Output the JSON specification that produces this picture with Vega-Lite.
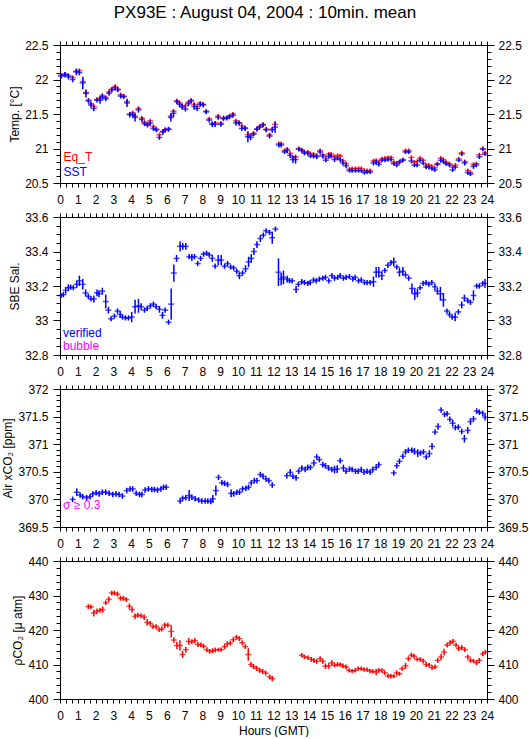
{
"$schema": "https://vega.github.io/schema/vega-lite/v6.json",
"padding": {"left": 1, "top": 3, "right": 5, "bottom": 0},
"title": {"text": "PX93E : August 04, 2004 : 10min. mean", "font": "Liberation Sans", "fontSize": 17, "fontWeight": "normal", "color": "#000000", "anchor": "middle", "offset": 17},
"config": {
  "view": {"stroke": "#000000", "strokeWidth": 1},
  "axis": {"domainColor": "#000000", "tickColor": "#000000", "labelColor": "#000000", "titleColor": "#000000", "labelFont": "Liberation Sans", "titleFont": "Liberation Sans", "labelFontSize": 12, "titleFontSize": 12, "titleFontWeight": "normal", "grid": false, "tickWidth": 1, "domainWidth": 1}
},
"resolve": {"scale": {"color": "independent"}},
"spacing": 34,
"bounds": "flush",
"datasets": {
"temp": [
{"h":0.06,"sst":22.05,"se":0.04,"eq":22.06,"ee":0.03},
{"h":0.28,"sst":22.07,"se":0.04,"eq":22.08,"ee":0.03},
{"h":0.47,"sst":22.04,"se":0.04,"eq":22.06,"ee":0.03},
{"h":0.71,"sst":22.00,"se":0.04,"eq":22.03,"ee":0.03},
{"h":0.92,"sst":22.11,"se":0.05,"eq":22.12,"ee":0.03},
{"h":1.09,"sst":22.10,"se":0.04,"eq":22.13,"ee":0.03},
{"h":1.28,"sst":21.95,"se":0.09,"eq":21.97,"ee":0.04},
{"h":1.46,"sst":21.80,"se":0.06,"eq":21.81,"ee":0.03},
{"h":1.60,"sst":21.69,"se":0.035,"eq":21.70,"ee":0.03},
{"h":1.74,"sst":21.63,"se":0.04,"eq":21.65,"ee":0.03},
{"h":1.90,"sst":21.58,"se":0.04,"eq":21.61,"ee":0.03},
{"h":2.08,"sst":21.70,"se":0.035,"eq":21.71,"ee":0.03},
{"h":2.25,"sst":21.70,"se":0.05,"eq":21.73,"ee":0.03},
{"h":2.38,"sst":21.75,"se":0.04,"eq":21.77,"ee":0.03},
{"h":2.57,"sst":21.72,"se":0.035,"eq":21.74,"ee":0.03},
{"h":2.76,"sst":21.80,"se":0.035,"eq":21.82,"ee":0.03},
{"h":2.91,"sst":21.85,"se":0.035,"eq":21.86,"ee":0.03},
{"h":3.10,"sst":21.88,"se":0.035,"eq":21.90,"ee":0.03},
{"h":3.25,"sst":21.85,"se":0.035,"eq":21.86,"ee":0.03},
{"h":3.41,"sst":21.76,"se":0.035,"eq":21.78,"ee":0.03},
{"h":3.58,"sst":21.75,"se":0.035,"eq":21.76,"ee":0.03},
{"h":3.77,"sst":21.66,"se":0.06,"eq":21.68,"ee":0.03},
{"h":3.92,"sst":21.49,"se":0.04,"eq":21.50,"ee":0.03},
{"h":4.09,"sst":21.49,"se":0.04,"eq":21.52,"ee":0.03},
{"h":4.22,"sst":21.45,"se":0.06,"eq":21.47,"ee":0.03},
{"h":4.41,"sst":21.56,"se":0.04,"eq":21.58,"ee":0.03},
{"h":4.60,"sst":21.42,"se":0.035,"eq":21.44,"ee":0.03},
{"h":4.75,"sst":21.36,"se":0.035,"eq":21.38,"ee":0.03},
{"h":4.92,"sst":21.34,"se":0.035,"eq":21.35,"ee":0.03},
{"h":5.07,"sst":21.37,"se":0.035,"eq":21.40,"ee":0.03},
{"h":5.25,"sst":21.29,"se":0.035,"eq":21.32,"ee":0.03},
{"h":5.42,"sst":21.27,"se":0.035,"eq":21.28,"ee":0.03},
{"h":5.59,"sst":21.16,"se":0.035,"eq":21.20,"ee":0.03},
{"h":5.78,"sst":21.24,"se":0.04,"eq":21.25,"ee":0.03},
{"h":5.91,"sst":21.27,"se":0.035,"eq":21.27,"ee":0.03},
{"h":6.10,"sst":21.28,"se":0.035,"eq":21.28,"ee":0.03},
{"h":6.23,"sst":21.45,"se":0.06,"eq":21.47,"ee":0.03},
{"h":6.38,"sst":21.51,"se":0.05,"eq":21.54,"ee":0.03},
{"h":6.57,"sst":21.68,"se":0.035,"eq":21.69,"ee":0.03},
{"h":6.72,"sst":21.64,"se":0.04,"eq":21.66,"ee":0.03},
{"h":6.87,"sst":21.60,"se":0.04,"eq":21.62,"ee":0.03},
{"h":7.05,"sst":21.57,"se":0.035,"eq":21.62,"ee":0.03},
{"h":7.22,"sst":21.65,"se":0.035,"eq":21.67,"ee":0.03},
{"h":7.37,"sst":21.69,"se":0.035,"eq":21.70,"ee":0.03},
{"h":7.54,"sst":21.61,"se":0.05,"eq":21.64,"ee":0.03},
{"h":7.71,"sst":21.58,"se":0.035,"eq":21.61,"ee":0.03},
{"h":7.88,"sst":21.64,"se":0.035,"eq":21.66,"ee":0.03},
{"h":8.05,"sst":21.63,"se":0.035,"eq":21.64,"ee":0.03},
{"h":8.22,"sst":21.53,"se":0.035,"eq":21.54,"ee":0.03},
{"h":8.39,"sst":21.41,"se":0.035,"eq":21.43,"ee":0.03},
{"h":8.56,"sst":21.35,"se":0.04,"eq":21.36,"ee":0.03},
{"h":8.72,"sst":21.35,"se":0.04,"eq":21.37,"ee":0.03},
{"h":8.89,"sst":21.45,"se":0.035,"eq":21.47,"ee":0.03},
{"h":9.04,"sst":21.35,"se":0.035,"eq":21.37,"ee":0.03},
{"h":9.19,"sst":21.44,"se":0.035,"eq":21.43,"ee":0.03},
{"h":9.38,"sst":21.44,"se":0.035,"eq":21.45,"ee":0.03},
{"h":9.53,"sst":21.46,"se":0.035,"eq":21.47,"ee":0.03},
{"h":9.72,"sst":21.48,"se":0.035,"eq":21.50,"ee":0.03},
{"h":9.89,"sst":21.37,"se":0.04,"eq":21.40,"ee":0.03},
{"h":10.07,"sst":21.37,"se":0.035,"eq":21.37,"ee":0.03},
{"h":10.22,"sst":21.29,"se":0.035,"eq":21.33,"ee":0.03},
{"h":10.41,"sst":21.29,"se":0.035,"eq":21.30,"ee":0.03},
{"h":10.56,"sst":21.17,"se":0.08,"eq":21.20,"ee":0.04},
{"h":10.71,"sst":21.16,"se":0.04,"eq":21.19,"ee":0.03},
{"h":10.88,"sst":21.21,"se":0.035,"eq":21.22,"ee":0.03},
{"h":11.07,"sst":21.28,"se":0.035,"eq":21.28,"ee":0.03},
{"h":11.22,"sst":21.31,"se":0.035,"eq":21.32,"ee":0.03},
{"h":11.41,"sst":21.34,"se":0.035,"eq":21.35,"ee":0.03},
{"h":11.59,"sst":21.27,"se":0.035,"eq":21.28,"ee":0.03},
{"h":11.78,"sst":21.18,"se":0.035,"eq":21.20,"ee":0.03},
{"h":11.93,"sst":21.27,"se":0.04,"eq":21.28,"ee":0.03},
{"h":12.09,"sst":21.31,"se":0.08,"eq":21.35,"ee":0.04},
{"h":12.30,"sst":21.05,"se":0.035,"eq":21.07,"ee":0.03},
{"h":12.43,"sst":21.05,"se":0.035,"eq":21.07,"ee":0.03},
{"h":12.62,"sst":20.95,"se":0.03,"eq":20.97,"ee":0.03},
{"h":12.77,"sst":20.97,"se":0.035,"eq":20.99,"ee":0.03},
{"h":12.94,"sst":20.90,"se":0.035,"eq":20.93,"ee":0.03},
{"h":13.09,"sst":20.84,"se":0.05,"eq":20.87,"ee":0.03},
{"h":13.24,"sst":20.84,"se":0.06,"eq":20.88,"ee":0.03},
{"h":13.42,"sst":20.99,"se":0.03,"eq":21.00,"ee":0.03},
{"h":13.59,"sst":20.97,"se":0.03,"eq":20.98,"ee":0.03},
{"h":13.74,"sst":20.93,"se":0.03,"eq":20.95,"ee":0.03},
{"h":13.93,"sst":20.93,"se":0.03,"eq":20.95,"ee":0.03},
{"h":14.08,"sst":20.89,"se":0.03,"eq":20.92,"ee":0.03},
{"h":14.25,"sst":20.89,"se":0.035,"eq":20.92,"ee":0.03},
{"h":14.43,"sst":20.88,"se":0.035,"eq":20.90,"ee":0.03},
{"h":14.62,"sst":20.95,"se":0.035,"eq":20.97,"ee":0.03},
{"h":14.77,"sst":20.89,"se":0.03,"eq":20.91,"ee":0.03},
{"h":14.94,"sst":20.83,"se":0.03,"eq":20.86,"ee":0.03},
{"h":15.11,"sst":20.89,"se":0.04,"eq":20.92,"ee":0.03},
{"h":15.24,"sst":20.89,"se":0.035,"eq":20.92,"ee":0.03},
{"h":15.43,"sst":20.84,"se":0.035,"eq":20.88,"ee":0.03},
{"h":15.60,"sst":20.86,"se":0.03,"eq":20.90,"ee":0.03},
{"h":15.75,"sst":20.84,"se":0.035,"eq":20.89,"ee":0.03},
{"h":15.90,"sst":20.79,"se":0.035,"eq":20.82,"ee":0.03},
{"h":16.08,"sst":20.75,"se":0.035,"eq":20.78,"ee":0.03},
{"h":16.27,"sst":20.68,"se":0.03,"eq":20.70,"ee":0.03},
{"h":16.42,"sst":20.68,"se":0.03,"eq":20.71,"ee":0.03},
{"h":16.61,"sst":20.68,"se":0.03,"eq":20.71,"ee":0.03},
{"h":16.78,"sst":20.68,"se":0.03,"eq":20.71,"ee":0.03},
{"h":16.94,"sst":20.68,"se":0.03,"eq":20.71,"ee":0.03},
{"h":17.11,"sst":20.65,"se":0.03,"eq":20.68,"ee":0.03},
{"h":17.26,"sst":20.66,"se":0.03,"eq":20.68,"ee":0.03},
{"h":17.43,"sst":20.66,"se":0.03,"eq":20.68,"ee":0.03},
{"h":17.62,"sst":20.79,"se":0.035,"eq":20.82,"ee":0.03},
{"h":17.77,"sst":20.80,"se":0.035,"eq":20.83,"ee":0.03},
{"h":17.92,"sst":20.77,"se":0.03,"eq":20.80,"ee":0.03},
{"h":18.10,"sst":20.83,"se":0.03,"eq":20.85,"ee":0.03},
{"h":18.27,"sst":20.83,"se":0.03,"eq":20.86,"ee":0.03},
{"h":18.44,"sst":20.84,"se":0.03,"eq":20.87,"ee":0.03},
{"h":18.61,"sst":20.84,"se":0.03,"eq":20.87,"ee":0.03},
{"h":18.76,"sst":20.78,"se":0.03,"eq":20.80,"ee":0.03},
{"h":18.93,"sst":20.76,"se":0.03,"eq":20.79,"ee":0.03},
{"h":19.08,"sst":20.80,"se":0.03,"eq":20.81,"ee":0.03},
{"h":19.27,"sst":20.83,"se":0.03,"eq":20.84,"ee":0.03},
{"h":19.42,"sst":20.95,"se":0.03,"eq":20.97,"ee":0.03},
{"h":19.60,"sst":20.95,"se":0.03,"eq":20.97,"ee":0.03},
{"h":19.75,"sst":20.82,"se":0.035,"eq":20.87,"ee":0.03},
{"h":19.92,"sst":20.76,"se":0.03,"eq":20.80,"ee":0.03},
{"h":20.07,"sst":20.76,"se":0.03,"eq":20.81,"ee":0.03},
{"h":20.24,"sst":20.83,"se":0.03,"eq":20.86,"ee":0.03},
{"h":20.41,"sst":20.79,"se":0.03,"eq":20.83,"ee":0.03},
{"h":20.58,"sst":20.73,"se":0.03,"eq":20.76,"ee":0.03},
{"h":20.73,"sst":20.73,"se":0.03,"eq":20.76,"ee":0.03},
{"h":20.90,"sst":20.71,"se":0.03,"eq":20.74,"ee":0.03},
{"h":21.06,"sst":20.69,"se":0.03,"eq":20.72,"ee":0.03},
{"h":21.21,"sst":20.77,"se":0.03,"eq":20.78,"ee":0.03},
{"h":21.40,"sst":20.83,"se":0.035,"eq":20.86,"ee":0.03},
{"h":21.55,"sst":20.81,"se":0.03,"eq":20.84,"ee":0.03},
{"h":21.70,"sst":20.78,"se":0.03,"eq":20.80,"ee":0.03},
{"h":21.89,"sst":20.76,"se":0.03,"eq":20.78,"ee":0.03},
{"h":22.07,"sst":20.69,"se":0.03,"eq":20.73,"ee":0.03},
{"h":22.22,"sst":20.73,"se":0.03,"eq":20.76,"ee":0.03},
{"h":22.41,"sst":20.83,"se":0.03,"eq":20.85,"ee":0.03},
{"h":22.58,"sst":20.92,"se":0.03,"eq":20.94,"ee":0.03},
{"h":22.75,"sst":20.79,"se":0.035,"eq":20.81,"ee":0.03},
{"h":22.92,"sst":20.65,"se":0.03,"eq":20.68,"ee":0.03},
{"h":23.07,"sst":20.63,"se":0.03,"eq":20.65,"ee":0.03},
{"h":23.24,"sst":20.74,"se":0.035,"eq":20.77,"ee":0.03},
{"h":23.40,"sst":20.76,"se":0.03,"eq":20.78,"ee":0.03},
{"h":23.57,"sst":20.88,"se":0.035,"eq":20.91,"ee":0.03},
{"h":23.76,"sst":20.99,"se":0.03,"eq":21.00,"ee":0.03},
{"h":23.89,"sst":20.92,"se":0.03,"eq":20.94,"ee":0.03}
],
"sal": [
{"h":0.06,"s":33.145,"e":0.015},{"h":0.19,"s":33.15,"e":0.015},{"h":0.32,"s":33.175,"e":0.02},{"h":0.47,"s":33.19,"e":0.02},
{"h":0.60,"s":33.193,"e":0.015},{"h":0.75,"s":33.19,"e":0.015},{"h":0.94,"s":33.21,"e":0.02},{"h":1.09,"s":33.23,"e":0.03},
{"h":1.28,"s":33.21,"e":0.03},{"h":1.44,"s":33.16,"e":0.02},{"h":1.59,"s":33.14,"e":0.015},{"h":1.74,"s":33.125,"e":0.015},
{"h":1.90,"s":33.125,"e":0.02},{"h":2.08,"s":33.16,"e":0.02},{"h":2.19,"s":33.155,"e":0.02},{"h":2.38,"s":33.17,"e":0.02},
{"h":2.57,"s":33.11,"e":0.04},{"h":2.72,"s":33.06,"e":0.02},{"h":2.87,"s":33.01,"e":0.015},{"h":3.06,"s":33.025,"e":0.015},
{"h":3.23,"s":33.055,"e":0.015},{"h":3.38,"s":33.035,"e":0.02},{"h":3.51,"s":33.02,"e":0.015},{"h":3.68,"s":33.015,"e":0.015},
{"h":3.85,"s":33.015,"e":0.015},{"h":4.03,"s":33.02,"e":0.03},{"h":4.22,"s":33.08,"e":0.04},{"h":4.41,"s":33.085,"e":0.04},
{"h":4.56,"s":33.08,"e":0.02},{"h":4.75,"s":33.06,"e":0.015},{"h":4.90,"s":33.07,"e":0.015},{"h":5.08,"s":33.085,"e":0.015},
{"h":5.25,"s":33.095,"e":0.015},{"h":5.40,"s":33.08,"e":0.015},{"h":5.59,"s":33.065,"e":0.02},{"h":5.76,"s":33.03,"e":0.02},
{"h":5.91,"s":33.06,"e":0.015},{"h":6.10,"s":32.99,"e":0.015},{"h":6.25,"s":33.095,"e":0.09},{"h":6.40,"s":33.275,"e":0.05},
{"h":6.55,"s":33.36,"e":0.02},{"h":6.75,"s":33.43,"e":0.03},{"h":6.90,"s":33.43,"e":0.02},{"h":7.07,"s":33.43,"e":0.02},
{"h":7.26,"s":33.37,"e":0.015},{"h":7.41,"s":33.365,"e":0.02},{"h":7.56,"s":33.37,"e":0.015},{"h":7.74,"s":33.33,"e":0.015},
{"h":7.90,"s":33.36,"e":0.015},{"h":8.07,"s":33.385,"e":0.015},{"h":8.24,"s":33.39,"e":0.015},{"h":8.39,"s":33.38,"e":0.015},
{"h":8.56,"s":33.36,"e":0.02},{"h":8.72,"s":33.315,"e":0.015},{"h":8.89,"s":33.35,"e":0.03},{"h":9.06,"s":33.35,"e":0.03},
{"h":9.25,"s":33.315,"e":0.015},{"h":9.42,"s":33.33,"e":0.015},{"h":9.59,"s":33.31,"e":0.015},{"h":9.76,"s":33.305,"e":0.015},
{"h":9.94,"s":33.285,"e":0.015},{"h":10.08,"s":33.26,"e":0.02},{"h":10.26,"s":33.275,"e":0.015},{"h":10.43,"s":33.30,"e":0.02},
{"h":10.60,"s":33.34,"e":0.03},{"h":10.75,"s":33.36,"e":0.025},{"h":10.90,"s":33.40,"e":0.02},{"h":11.07,"s":33.44,"e":0.02},
{"h":11.26,"s":33.475,"e":0.02},{"h":11.43,"s":33.495,"e":0.015},{"h":11.58,"s":33.52,"e":0.015},{"h":11.78,"s":33.51,"e":0.015},
{"h":11.93,"s":33.48,"e":0.035},{"h":12.11,"s":33.53,"e":0.015},{"h":12.28,"s":33.28,"e":0.08},{"h":12.43,"s":33.24,"e":0.035},
{"h":12.56,"s":33.25,"e":0.04},{"h":12.77,"s":33.24,"e":0.02},{"h":12.90,"s":33.23,"e":0.015},{"h":13.05,"s":33.23,"e":0.015},
{"h":13.27,"s":33.18,"e":0.02},{"h":13.40,"s":33.21,"e":0.015},{"h":13.59,"s":33.225,"e":0.015},{"h":13.74,"s":33.22,"e":0.015},
{"h":13.93,"s":33.215,"e":0.015},{"h":14.06,"s":33.22,"e":0.015},{"h":14.25,"s":33.235,"e":0.015},{"h":14.40,"s":33.23,"e":0.015},
{"h":14.58,"s":33.24,"e":0.015},{"h":14.77,"s":33.245,"e":0.015},{"h":14.92,"s":33.25,"e":0.015},{"h":15.11,"s":33.23,"e":0.015},
{"h":15.28,"s":33.26,"e":0.015},{"h":15.43,"s":33.245,"e":0.015},{"h":15.61,"s":33.25,"e":0.015},{"h":15.75,"s":33.26,"e":0.015},
{"h":15.93,"s":33.245,"e":0.015},{"h":16.08,"s":33.25,"e":0.015},{"h":16.27,"s":33.255,"e":0.015},{"h":16.46,"s":33.24,"e":0.015},
{"h":16.59,"s":33.25,"e":0.015},{"h":16.78,"s":33.23,"e":0.015},{"h":16.93,"s":33.235,"e":0.015},{"h":17.11,"s":33.22,"e":0.015},
{"h":17.26,"s":33.22,"e":0.015},{"h":17.43,"s":33.22,"e":0.015},{"h":17.62,"s":33.225,"e":0.03},{"h":17.77,"s":33.28,"e":0.03},
{"h":17.92,"s":33.28,"e":0.03},{"h":18.09,"s":33.26,"e":0.025},{"h":18.26,"s":33.29,"e":0.015},{"h":18.43,"s":33.32,"e":0.015},
{"h":18.60,"s":33.335,"e":0.015},{"h":18.76,"s":33.34,"e":0.025},{"h":18.93,"s":33.31,"e":0.015},{"h":19.08,"s":33.28,"e":0.025},
{"h":19.27,"s":33.285,"e":0.025},{"h":19.42,"s":33.265,"e":0.015},{"h":19.60,"s":33.245,"e":0.015},{"h":19.78,"s":33.185,"e":0.03},
{"h":19.94,"s":33.155,"e":0.035},{"h":20.09,"s":33.16,"e":0.025},{"h":20.24,"s":33.19,"e":0.015},{"h":20.41,"s":33.215,"e":0.015},
{"h":20.58,"s":33.22,"e":0.015},{"h":20.73,"s":33.21,"e":0.015},{"h":20.90,"s":33.22,"e":0.015},{"h":21.07,"s":33.195,"e":0.02},
{"h":21.21,"s":33.17,"e":0.02},{"h":21.38,"s":33.155,"e":0.04},{"h":21.55,"s":33.12,"e":0.04},{"h":21.75,"s":33.055,"e":0.015},
{"h":21.89,"s":33.035,"e":0.015},{"h":22.04,"s":33.02,"e":0.015},{"h":22.21,"s":33.02,"e":0.025},{"h":22.39,"s":33.05,"e":0.015},
{"h":22.58,"s":33.09,"e":0.02},{"h":22.73,"s":33.13,"e":0.02},{"h":22.92,"s":33.115,"e":0.015},{"h":23.07,"s":33.105,"e":0.015},
{"h":23.24,"s":33.145,"e":0.03},{"h":23.42,"s":33.20,"e":0.015},{"h":23.57,"s":33.20,"e":0.015},{"h":23.76,"s":33.215,"e":0.015},
{"h":23.89,"s":33.215,"e":0.025}
],
"air": [
{"h":0.71,"c":370.0,"e":0.05},{"h":0.94,"c":370.13,"e":0.07},{"h":1.13,"c":370.08,"e":0.05},{"h":1.28,"c":370.05,"e":0.05},
{"h":1.50,"c":370.03,"e":0.05},{"h":1.69,"c":370.05,"e":0.05},{"h":1.84,"c":370.10,"e":0.05},{"h":2.03,"c":370.12,"e":0.05},
{"h":2.20,"c":370.10,"e":0.05},{"h":2.38,"c":370.13,"e":0.05},{"h":2.57,"c":370.13,"e":0.05},{"h":2.76,"c":370.11,"e":0.05},
{"h":2.96,"c":370.09,"e":0.05},{"h":3.15,"c":370.10,"e":0.05},{"h":3.32,"c":370.09,"e":0.05},{"h":3.51,"c":370.06,"e":0.05},
{"h":3.75,"c":370.16,"e":0.05},{"h":3.94,"c":370.19,"e":0.05},{"h":4.09,"c":370.19,"e":0.05},{"h":4.28,"c":370.11,"e":0.05},
{"h":4.47,"c":370.09,"e":0.05},{"h":4.60,"c":370.09,"e":0.05},{"h":4.78,"c":370.17,"e":0.05},{"h":4.97,"c":370.19,"e":0.05},
{"h":5.16,"c":370.18,"e":0.05},{"h":5.31,"c":370.18,"e":0.05},{"h":5.48,"c":370.17,"e":0.05},{"h":5.67,"c":370.19,"e":0.05},
{"h":5.82,"c":370.22,"e":0.05},{"h":5.97,"c":370.22,"e":0.05},
{"h":6.75,"c":369.97,"e":0.05},{"h":6.89,"c":370.02,"e":0.05},{"h":7.07,"c":370.03,"e":0.05},{"h":7.26,"c":370.07,"e":0.1},
{"h":7.41,"c":370.04,"e":0.05},{"h":7.60,"c":370.01,"e":0.05},{"h":7.79,"c":369.99,"e":0.05},{"h":7.97,"c":369.97,"e":0.05},
{"h":8.16,"c":369.97,"e":0.05},{"h":8.31,"c":369.97,"e":0.05},{"h":8.48,"c":369.96,"e":0.05},{"h":8.59,"c":370.01,"e":0.07},
{"h":8.76,"c":370.16,"e":0.09},{"h":8.91,"c":370.40,"e":0.05},{"h":9.10,"c":370.30,"e":0.05},{"h":9.25,"c":370.29,"e":0.05},
{"h":9.42,"c":370.27,"e":0.05},{"h":9.62,"c":370.11,"e":0.07},{"h":9.76,"c":370.10,"e":0.05},{"h":9.94,"c":370.13,"e":0.05},
{"h":10.09,"c":370.13,"e":0.05},{"h":10.26,"c":370.19,"e":0.05},{"h":10.45,"c":370.20,"e":0.05},{"h":10.60,"c":370.22,"e":0.05},
{"h":10.75,"c":370.30,"e":0.05},{"h":10.92,"c":370.34,"e":0.05},{"h":11.07,"c":370.34,"e":0.05},{"h":11.26,"c":370.45,"e":0.05},
{"h":11.41,"c":370.42,"e":0.05},{"h":11.58,"c":370.37,"e":0.05},{"h":11.74,"c":370.34,"e":0.05},{"h":11.93,"c":370.26,"e":0.05},
{"h":12.75,"c":370.43,"e":0.05},{"h":12.94,"c":370.49,"e":0.06},{"h":13.09,"c":370.42,"e":0.05},{"h":13.27,"c":370.39,"e":0.05},
{"h":13.42,"c":370.51,"e":0.05},{"h":13.59,"c":370.57,"e":0.05},{"h":13.78,"c":370.54,"e":0.05},{"h":13.93,"c":370.58,"e":0.05},
{"h":14.08,"c":370.58,"e":0.05},{"h":14.27,"c":370.66,"e":0.06},{"h":14.43,"c":370.77,"e":0.05},{"h":14.58,"c":370.72,"e":0.05},
{"h":14.77,"c":370.63,"e":0.05},{"h":14.92,"c":370.61,"e":0.05},{"h":15.09,"c":370.57,"e":0.05},{"h":15.28,"c":370.54,"e":0.05},
{"h":15.43,"c":370.54,"e":0.07},{"h":15.58,"c":370.55,"e":0.07},{"h":15.75,"c":370.70,"e":0.05},{"h":15.93,"c":370.57,"e":0.06},
{"h":16.08,"c":370.51,"e":0.05},{"h":16.27,"c":370.55,"e":0.05},{"h":16.42,"c":370.54,"e":0.05},{"h":16.61,"c":370.51,"e":0.05},
{"h":16.76,"c":370.51,"e":0.05},{"h":16.93,"c":370.54,"e":0.05},{"h":17.09,"c":370.49,"e":0.05},{"h":17.26,"c":370.51,"e":0.05},
{"h":17.43,"c":370.49,"e":0.05},{"h":17.58,"c":370.54,"e":0.05},{"h":17.77,"c":370.58,"e":0.05},{"h":17.92,"c":370.63,"e":0.05},
{"h":18.76,"c":370.48,"e":0.05},{"h":18.93,"c":370.61,"e":0.05},{"h":19.08,"c":370.69,"e":0.05},{"h":19.27,"c":370.78,"e":0.05},
{"h":19.42,"c":370.86,"e":0.05},{"h":19.58,"c":370.89,"e":0.05},{"h":19.77,"c":370.89,"e":0.05},{"h":19.92,"c":370.87,"e":0.06},
{"h":20.11,"c":370.84,"e":0.07},{"h":20.26,"c":370.84,"e":0.05},{"h":20.43,"c":370.86,"e":0.05},{"h":20.58,"c":370.77,"e":0.05},
{"h":20.76,"c":370.83,"e":0.06},{"h":20.91,"c":370.96,"e":0.06},{"h":21.08,"c":371.22,"e":0.05},{"h":21.25,"c":371.32,"e":0.06},
{"h":21.42,"c":371.62,"e":0.05},{"h":21.61,"c":371.54,"e":0.05},{"h":21.76,"c":371.55,"e":0.05},{"h":21.91,"c":371.45,"e":0.05},
{"h":22.07,"c":371.38,"e":0.06},{"h":22.22,"c":371.30,"e":0.05},{"h":22.39,"c":371.31,"e":0.05},{"h":22.58,"c":371.23,"e":0.05},
{"h":22.73,"c":371.10,"e":0.07},{"h":22.92,"c":371.25,"e":0.06},{"h":23.07,"c":371.41,"e":0.06},{"h":23.24,"c":371.46,"e":0.05},
{"h":23.42,"c":371.60,"e":0.05},{"h":23.57,"c":371.58,"e":0.05},{"h":23.76,"c":371.56,"e":0.05},{"h":23.89,"c":371.49,"e":0.06}
],
"pco2": [
{"h":1.59,"p":426.8,"e":0.7},{"h":1.74,"p":426.7,"e":0.7},{"h":1.90,"p":424.9,"e":1.0},{"h":2.08,"p":425.4,"e":0.8},
{"h":2.25,"p":425.7,"e":0.7},{"h":2.40,"p":425.9,"e":0.9},{"h":2.57,"p":427.9,"e":0.7},{"h":2.74,"p":428.9,"e":0.8},
{"h":2.91,"p":430.7,"e":0.7},{"h":3.06,"p":430.7,"e":0.7},{"h":3.23,"p":430.4,"e":0.7},{"h":3.40,"p":429.2,"e":0.7},
{"h":3.56,"p":429.2,"e":0.7},{"h":3.73,"p":428.8,"e":0.7},{"h":3.90,"p":426.9,"e":0.8},{"h":4.05,"p":425.9,"e":0.8},
{"h":4.22,"p":424.0,"e":0.8},{"h":4.37,"p":424.3,"e":0.7},{"h":4.56,"p":424.1,"e":0.7},{"h":4.73,"p":423.7,"e":0.8},
{"h":4.90,"p":422.2,"e":1.0},{"h":5.07,"p":421.9,"e":0.7},{"h":5.23,"p":421.0,"e":0.7},{"h":5.40,"p":421.0,"e":0.7},
{"h":5.57,"p":420.1,"e":0.7},{"h":5.72,"p":420.3,"e":0.7},{"h":5.89,"p":421.4,"e":0.8},{"h":6.06,"p":421.4,"e":0.7},
{"h":6.25,"p":419.6,"e":1.8},{"h":6.40,"p":417.1,"e":0.8},{"h":6.57,"p":415.5,"e":1.0},{"h":6.74,"p":415.5,"e":1.5},
{"h":6.89,"p":412.9,"e":1.0},{"h":7.07,"p":414.3,"e":0.8},{"h":7.24,"p":416.7,"e":1.0},{"h":7.41,"p":416.6,"e":0.7},
{"h":7.58,"p":416.9,"e":0.8},{"h":7.75,"p":415.8,"e":0.7},{"h":7.92,"p":415.7,"e":0.7},{"h":8.07,"p":415.3,"e":0.7},
{"h":8.26,"p":414.3,"e":0.7},{"h":8.41,"p":413.8,"e":0.7},{"h":8.57,"p":414.0,"e":0.7},{"h":8.72,"p":414.2,"e":0.7},
{"h":8.91,"p":414.3,"e":0.6},{"h":9.06,"p":414.3,"e":0.6},{"h":9.25,"p":415.2,"e":0.7},{"h":9.40,"p":416.0,"e":0.7},
{"h":9.57,"p":416.2,"e":0.7},{"h":9.74,"p":417.2,"e":0.7},{"h":9.92,"p":417.9,"e":0.7},{"h":10.08,"p":417.5,"e":0.7},
{"h":10.24,"p":416.3,"e":0.7},{"h":10.41,"p":415.2,"e":0.7},{"h":10.58,"p":412.9,"e":1.8},{"h":10.73,"p":410.0,"e":0.7},
{"h":10.88,"p":409.4,"e":0.7},{"h":11.05,"p":408.9,"e":0.7},{"h":11.22,"p":408.3,"e":0.7},{"h":11.39,"p":408.0,"e":0.7},
{"h":11.56,"p":407.5,"e":0.7},{"h":11.78,"p":406.4,"e":0.7},{"h":11.93,"p":405.9,"e":0.8},
{"h":13.59,"p":412.7,"e":0.6},{"h":13.74,"p":412.2,"e":0.6},{"h":13.93,"p":412.0,"e":0.6},{"h":14.12,"p":411.5,"e":0.7},
{"h":14.27,"p":411.2,"e":0.7},{"h":14.43,"p":410.9,"e":0.7},{"h":14.62,"p":411.7,"e":0.7},{"h":14.77,"p":410.9,"e":0.7},
{"h":14.92,"p":409.5,"e":0.8},{"h":15.11,"p":409.6,"e":0.8},{"h":15.28,"p":410.5,"e":0.7},{"h":15.43,"p":409.8,"e":0.6},
{"h":15.60,"p":410.0,"e":0.7},{"h":15.75,"p":410.0,"e":0.6},{"h":15.90,"p":409.6,"e":0.7},{"h":16.08,"p":409.3,"e":0.7},
{"h":16.25,"p":408.3,"e":0.6},{"h":16.42,"p":408.1,"e":0.6},{"h":16.59,"p":408.3,"e":0.6},{"h":16.76,"p":408.8,"e":0.6},
{"h":16.93,"p":408.8,"e":0.6},{"h":17.09,"p":408.5,"e":0.6},{"h":17.26,"p":408.5,"e":0.6},{"h":17.43,"p":408.1,"e":0.6},
{"h":17.58,"p":408.0,"e":0.6},{"h":17.77,"p":407.8,"e":0.9},{"h":17.92,"p":408.3,"e":0.7},{"h":18.10,"p":408.3,"e":0.6},
{"h":18.25,"p":407.6,"e":0.6},{"h":18.44,"p":406.7,"e":0.7},{"h":18.59,"p":406.6,"e":0.7},{"h":18.76,"p":406.6,"e":0.6},
{"h":18.93,"p":407.6,"e":0.7},{"h":19.08,"p":407.3,"e":0.6},{"h":19.23,"p":408.8,"e":0.6},{"h":19.42,"p":409.6,"e":0.9},
{"h":19.58,"p":411.7,"e":0.7},{"h":19.75,"p":412.7,"e":0.7},{"h":19.90,"p":412.4,"e":0.7},{"h":20.07,"p":411.5,"e":0.6},
{"h":20.24,"p":411.5,"e":0.6},{"h":20.41,"p":411.0,"e":0.7},{"h":20.58,"p":410.0,"e":0.7},{"h":20.75,"p":409.8,"e":0.6},
{"h":20.91,"p":409.1,"e":0.7},{"h":21.08,"p":409.3,"e":0.7},{"h":21.23,"p":411.2,"e":0.7},{"h":21.42,"p":412.2,"e":0.9},
{"h":21.59,"p":413.6,"e":1.0},{"h":21.76,"p":415.6,"e":0.7},{"h":21.93,"p":416.3,"e":0.7},{"h":22.09,"p":416.7,"e":0.7},
{"h":22.26,"p":415.6,"e":0.7},{"h":22.41,"p":414.6,"e":0.7},{"h":22.58,"p":414.9,"e":0.7},{"h":22.75,"p":414.3,"e":0.7},
{"h":22.92,"p":412.2,"e":0.7},{"h":23.07,"p":411.2,"e":0.7},{"h":23.24,"p":411.0,"e":0.6},{"h":23.42,"p":410.5,"e":0.7},
{"h":23.57,"p":411.2,"e":0.7},{"h":23.76,"p":413.1,"e":0.7},{"h":23.91,"p":413.6,"e":0.6}
]
},
"vconcat": [
{
 "width": 427, "height": 138,
 "data": {"name": "temp"},
 "resolve": {"axis": {"x": "independent", "y": "independent"}},
 "layer": [
  {"mark": {"type": "errorbar", "ticks": false, "color": "#ff0000", "rule": {"strokeWidth": 1.5}},
   "encoding": {
     "x": {"field": "h", "type": "quantitative", "scale": {"domain": [0, 24], "zero": false, "nice": false}, "axis": null},
     "y": {"field": "eq", "type": "quantitative", "scale": {"domain": [20.5, 22.5], "zero": false, "nice": false}, "axis": null},
     "yError": {"field": "ee"}}},
  {"mark": {"type": "tick", "orient": "horizontal", "size": 6, "thickness": 1.5, "color": "#ff0000"},
   "encoding": {
     "x": {"field": "h", "type": "quantitative", "scale": {"domain": [0, 24], "zero": false, "nice": false},
       "axis": {"orient": "bottom", "values": [0,0.3333,0.6667,1,1.3333,1.6667,2,2.3333,2.6667,3,3.3333,3.6667,4,4.3333,4.6667,5,5.3333,5.6667,6,6.3333,6.6667,7,7.3333,7.6667,8,8.3333,8.6667,9,9.3333,9.6667,10,10.3333,10.6667,11,11.3333,11.6667,12,12.3333,12.6667,13,13.3333,13.6667,14,14.3333,14.6667,15,15.3333,15.6667,16,16.3333,16.6667,17,17.3333,17.6667,18,18.3333,18.6667,19,19.3333,19.6667,20,20.3333,20.6667,21,21.3333,21.6667,22,22.3333,22.6667,23,23.3333,23.6667,24], "labelExpr": "abs(datum.value-round(datum.value))<0.01 ? format(round(datum.value),'d') : ''", "tickSize": 4, "labelPadding": 7, "labelOverlap": false, "labelFlush": false, "title": null}},
     "y": {"field": "eq", "type": "quantitative", "scale": {"domain": [20.5, 22.5], "zero": false, "nice": false},
       "axis": {"orient": "left", "values": [20.5,20.6,20.7,20.8,20.9,21,21.1,21.2,21.3,21.4,21.5,21.6,21.7,21.8,21.9,22,22.1,22.2,22.3,22.4,22.5], "labelExpr": "abs(datum.value*2-round(datum.value*2))<0.001 ? format(datum.value,'~g') : ''", "tickSize": {"condition": {"test": "abs(datum.value*2-round(datum.value*2))<0.001", "value": 7}, "value": 4}, "labelPadding": 5, "labelOverlap": false, "labelFlush": false, "title": "Temp. [°C]", "titlePadding": 3}}}},
  {"mark": {"type": "errorbar", "ticks": false, "color": "#0000ff", "rule": {"strokeWidth": 1.5}},
   "encoding": {
     "x": {"field": "h", "type": "quantitative", "scale": {"domain": [0, 24], "zero": false, "nice": false}, "axis": null},
     "y": {"field": "sst", "type": "quantitative", "scale": {"domain": [20.5, 22.5], "zero": false, "nice": false}, "axis": null},
     "yError": {"field": "se"}}},
  {"mark": {"type": "tick", "orient": "horizontal", "size": 6, "thickness": 1.5, "color": "#0000ff"},
   "encoding": {
     "x": {"field": "h", "type": "quantitative", "scale": {"domain": [0, 24], "zero": false, "nice": false},
       "axis": {"orient": "top", "values": [0,0.3333,0.6667,1,1.3333,1.6667,2,2.3333,2.6667,3,3.3333,3.6667,4,4.3333,4.6667,5,5.3333,5.6667,6,6.3333,6.6667,7,7.3333,7.6667,8,8.3333,8.6667,9,9.3333,9.6667,10,10.3333,10.6667,11,11.3333,11.6667,12,12.3333,12.6667,13,13.3333,13.6667,14,14.3333,14.6667,15,15.3333,15.6667,16,16.3333,16.6667,17,17.3333,17.6667,18,18.3333,18.6667,19,19.3333,19.6667,20,20.3333,20.6667,21,21.3333,21.6667,22,22.3333,22.6667,23,23.3333,23.6667,24], "labels": false, "tickSize": 4, "title": null}},
     "y": {"field": "sst", "type": "quantitative", "scale": {"domain": [20.5, 22.5], "zero": false, "nice": false},
       "axis": {"orient": "right", "values": [20.5,20.6,20.7,20.8,20.9,21,21.1,21.2,21.3,21.4,21.5,21.6,21.7,21.8,21.9,22,22.1,22.2,22.3,22.4,22.5], "labelExpr": "abs(datum.value*2-round(datum.value*2))<0.001 ? format(datum.value,'~g') : ''", "tickSize": {"condition": {"test": "abs(datum.value*2-round(datum.value*2))<0.001", "value": 7}, "value": 4}, "labelPadding": 4, "labelOverlap": false, "labelFlush": false, "title": null}}}},
  {"data": {"values": [{"label": "Eq_T", "h": 0.2, "v": 20.87}, {"label": "SST", "h": 0.2, "v": 20.66}]},
   "mark": {"type": "text", "align": "left", "baseline": "middle", "fontSize": 12, "font": "Liberation Sans"},
   "encoding": {
     "x": {"field": "h", "type": "quantitative", "scale": {"domain": [0, 24], "zero": false, "nice": false}, "axis": null},
     "y": {"field": "v", "type": "quantitative", "scale": {"domain": [20.5, 22.5], "zero": false, "nice": false}, "axis": null},
     "text": {"field": "label"},
     "color": {"field": "label", "type": "nominal", "scale": {"domain": ["Eq_T", "SST", "verified", "bubble", "σ ≥ 0.3"], "range": ["#ff0000", "#0000ff", "#0000ff", "#ff00ff", "#ff00ff"]}, "legend": null}}}
 ]
},
{
 "width": 427, "height": 138,
 "data": {"name": "sal"},
 "resolve": {"axis": {"x": "independent", "y": "independent"}},
 "layer": [
  {"mark": {"type": "errorbar", "ticks": false, "color": "#0000ff", "rule": {"strokeWidth": 1.5}},
   "encoding": {
     "x": {"field": "h", "type": "quantitative", "scale": {"domain": [0, 24], "zero": false, "nice": false}, "axis": null},
     "y": {"field": "s", "type": "quantitative", "scale": {"domain": [32.8, 33.6], "zero": false, "nice": false}, "axis": null},
     "yError": {"field": "e"}}},
  {"mark": {"type": "tick", "orient": "horizontal", "size": 6, "thickness": 1.5, "color": "#0000ff"},
   "encoding": {
     "x": {"field": "h", "type": "quantitative", "scale": {"domain": [0, 24], "zero": false, "nice": false},
       "axis": {"orient": "bottom", "values": [0,0.3333,0.6667,1,1.3333,1.6667,2,2.3333,2.6667,3,3.3333,3.6667,4,4.3333,4.6667,5,5.3333,5.6667,6,6.3333,6.6667,7,7.3333,7.6667,8,8.3333,8.6667,9,9.3333,9.6667,10,10.3333,10.6667,11,11.3333,11.6667,12,12.3333,12.6667,13,13.3333,13.6667,14,14.3333,14.6667,15,15.3333,15.6667,16,16.3333,16.6667,17,17.3333,17.6667,18,18.3333,18.6667,19,19.3333,19.6667,20,20.3333,20.6667,21,21.3333,21.6667,22,22.3333,22.6667,23,23.3333,23.6667,24], "labelExpr": "abs(datum.value-round(datum.value))<0.01 ? format(round(datum.value),'d') : ''", "tickSize": 4, "labelPadding": 7, "labelOverlap": false, "labelFlush": false, "title": null}},
     "y": {"field": "s", "type": "quantitative", "scale": {"domain": [32.8, 33.6], "zero": false, "nice": false},
       "axis": {"orient": "left", "values": [32.8,32.85,32.9,32.95,33,33.05,33.1,33.15,33.2,33.25,33.3,33.35,33.4,33.45,33.5,33.55,33.6], "labelExpr": "abs(datum.value*5-round(datum.value*5))<0.001 ? format(datum.value,'~g') : ''", "tickSize": {"condition": {"test": "abs(datum.value*5-round(datum.value*5))<0.001", "value": 7}, "value": 4}, "labelPadding": 5, "labelOverlap": false, "labelFlush": false, "title": "SBE Sal.", "titlePadding": 3}}}},
  {"mark": {"type": "tick", "orient": "horizontal", "size": 6, "thickness": 1.5, "color": "#0000ff", "opacity": 0},
   "encoding": {
     "x": {"field": "h", "type": "quantitative", "scale": {"domain": [0, 24], "zero": false, "nice": false},
       "axis": {"orient": "top", "values": [0,0.3333,0.6667,1,1.3333,1.6667,2,2.3333,2.6667,3,3.3333,3.6667,4,4.3333,4.6667,5,5.3333,5.6667,6,6.3333,6.6667,7,7.3333,7.6667,8,8.3333,8.6667,9,9.3333,9.6667,10,10.3333,10.6667,11,11.3333,11.6667,12,12.3333,12.6667,13,13.3333,13.6667,14,14.3333,14.6667,15,15.3333,15.6667,16,16.3333,16.6667,17,17.3333,17.6667,18,18.3333,18.6667,19,19.3333,19.6667,20,20.3333,20.6667,21,21.3333,21.6667,22,22.3333,22.6667,23,23.3333,23.6667,24], "labels": false, "tickSize": 4, "title": null}},
     "y": {"field": "s", "type": "quantitative", "scale": {"domain": [32.8, 33.6], "zero": false, "nice": false},
       "axis": {"orient": "right", "values": [32.8,32.85,32.9,32.95,33,33.05,33.1,33.15,33.2,33.25,33.3,33.35,33.4,33.45,33.5,33.55,33.6], "labelExpr": "abs(datum.value*5-round(datum.value*5))<0.001 ? format(datum.value,'~g') : ''", "tickSize": {"condition": {"test": "abs(datum.value*5-round(datum.value*5))<0.001", "value": 7}, "value": 4}, "labelPadding": 4, "labelOverlap": false, "labelFlush": false, "title": null}}}},
  {"data": {"values": [{"label": "verified", "h": 0.17, "v": 32.925}, {"label": "bubble", "h": 0.17, "v": 32.85}]},
   "mark": {"type": "text", "align": "left", "baseline": "middle", "fontSize": 12, "font": "Liberation Sans"},
   "encoding": {
     "x": {"field": "h", "type": "quantitative", "scale": {"domain": [0, 24], "zero": false, "nice": false}, "axis": null},
     "y": {"field": "v", "type": "quantitative", "scale": {"domain": [32.8, 33.6], "zero": false, "nice": false}, "axis": null},
     "text": {"field": "label"},
     "color": {"field": "label", "type": "nominal", "scale": {"domain": ["Eq_T", "SST", "verified", "bubble", "σ ≥ 0.3"], "range": ["#ff0000", "#0000ff", "#0000ff", "#ff00ff", "#ff00ff"]}, "legend": null}}}
 ]
},
{
 "width": 427, "height": 138,
 "data": {"name": "air"},
 "resolve": {"axis": {"x": "independent", "y": "independent"}},
 "layer": [
  {"mark": {"type": "errorbar", "ticks": false, "color": "#0000ff", "rule": {"strokeWidth": 1.5}},
   "encoding": {
     "x": {"field": "h", "type": "quantitative", "scale": {"domain": [0, 24], "zero": false, "nice": false}, "axis": null},
     "y": {"field": "c", "type": "quantitative", "scale": {"domain": [369.5, 372], "zero": false, "nice": false}, "axis": null},
     "yError": {"field": "e"}}},
  {"mark": {"type": "tick", "orient": "horizontal", "size": 6, "thickness": 1.5, "color": "#0000ff"},
   "encoding": {
     "x": {"field": "h", "type": "quantitative", "scale": {"domain": [0, 24], "zero": false, "nice": false},
       "axis": {"orient": "bottom", "values": [0,0.3333,0.6667,1,1.3333,1.6667,2,2.3333,2.6667,3,3.3333,3.6667,4,4.3333,4.6667,5,5.3333,5.6667,6,6.3333,6.6667,7,7.3333,7.6667,8,8.3333,8.6667,9,9.3333,9.6667,10,10.3333,10.6667,11,11.3333,11.6667,12,12.3333,12.6667,13,13.3333,13.6667,14,14.3333,14.6667,15,15.3333,15.6667,16,16.3333,16.6667,17,17.3333,17.6667,18,18.3333,18.6667,19,19.3333,19.6667,20,20.3333,20.6667,21,21.3333,21.6667,22,22.3333,22.6667,23,23.3333,23.6667,24], "labelExpr": "abs(datum.value-round(datum.value))<0.01 ? format(round(datum.value),'d') : ''", "tickSize": 4, "labelPadding": 7, "labelOverlap": false, "labelFlush": false, "title": null}},
     "y": {"field": "c", "type": "quantitative", "scale": {"domain": [369.5, 372], "zero": false, "nice": false},
       "axis": {"orient": "left", "values": [369.5,369.6,369.7,369.8,369.9,370,370.1,370.2,370.3,370.4,370.5,370.6,370.7,370.8,370.9,371,371.1,371.2,371.3,371.4,371.5,371.6,371.7,371.8,371.9,372], "labelExpr": "abs(datum.value*2-round(datum.value*2))<0.001 ? format(datum.value,'~g') : ''", "tickSize": {"condition": {"test": "abs(datum.value*2-round(datum.value*2))<0.001", "value": 7}, "value": 4}, "labelPadding": 5, "labelOverlap": false, "labelFlush": false, "title": "Air xCO₂ [ppm]", "titlePadding": 3}}}},
  {"mark": {"type": "tick", "orient": "horizontal", "size": 6, "thickness": 1.5, "color": "#0000ff", "opacity": 0},
   "encoding": {
     "x": {"field": "h", "type": "quantitative", "scale": {"domain": [0, 24], "zero": false, "nice": false},
       "axis": {"orient": "top", "values": [0,0.3333,0.6667,1,1.3333,1.6667,2,2.3333,2.6667,3,3.3333,3.6667,4,4.3333,4.6667,5,5.3333,5.6667,6,6.3333,6.6667,7,7.3333,7.6667,8,8.3333,8.6667,9,9.3333,9.6667,10,10.3333,10.6667,11,11.3333,11.6667,12,12.3333,12.6667,13,13.3333,13.6667,14,14.3333,14.6667,15,15.3333,15.6667,16,16.3333,16.6667,17,17.3333,17.6667,18,18.3333,18.6667,19,19.3333,19.6667,20,20.3333,20.6667,21,21.3333,21.6667,22,22.3333,22.6667,23,23.3333,23.6667,24], "labels": false, "tickSize": 4, "title": null}},
     "y": {"field": "c", "type": "quantitative", "scale": {"domain": [369.5, 372], "zero": false, "nice": false},
       "axis": {"orient": "right", "values": [369.5,369.6,369.7,369.8,369.9,370,370.1,370.2,370.3,370.4,370.5,370.6,370.7,370.8,370.9,371,371.1,371.2,371.3,371.4,371.5,371.6,371.7,371.8,371.9,372], "labelExpr": "abs(datum.value*2-round(datum.value*2))<0.001 ? format(datum.value,'~g') : ''", "tickSize": {"condition": {"test": "abs(datum.value*2-round(datum.value*2))<0.001", "value": 7}, "value": 4}, "labelPadding": 4, "labelOverlap": false, "labelFlush": false, "title": null}}}},
  {"data": {"values": [{"label": "σ ≥ 0.3", "h": 0.17, "v": 369.89}]},
   "mark": {"type": "text", "align": "left", "baseline": "middle", "fontSize": 12, "font": "Liberation Sans"},
   "encoding": {
     "x": {"field": "h", "type": "quantitative", "scale": {"domain": [0, 24], "zero": false, "nice": false}, "axis": null},
     "y": {"field": "v", "type": "quantitative", "scale": {"domain": [369.5, 372], "zero": false, "nice": false}, "axis": null},
     "text": {"field": "label"},
     "color": {"field": "label", "type": "nominal", "scale": {"domain": ["Eq_T", "SST", "verified", "bubble", "σ ≥ 0.3"], "range": ["#ff0000", "#0000ff", "#0000ff", "#ff00ff", "#ff00ff"]}, "legend": null}}}
 ]
},
{
 "width": 427, "height": 138,
 "data": {"name": "pco2"},
 "resolve": {"axis": {"x": "independent", "y": "independent"}},
 "layer": [
  {"mark": {"type": "errorbar", "ticks": false, "color": "#ff0000", "rule": {"strokeWidth": 1.5}},
   "encoding": {
     "x": {"field": "h", "type": "quantitative", "scale": {"domain": [0, 24], "zero": false, "nice": false}, "axis": null},
     "y": {"field": "p", "type": "quantitative", "scale": {"domain": [400, 440], "zero": false, "nice": false}, "axis": null},
     "yError": {"field": "e"}}},
  {"mark": {"type": "tick", "orient": "horizontal", "size": 6, "thickness": 1.5, "color": "#ff0000"},
   "encoding": {
     "x": {"field": "h", "type": "quantitative", "scale": {"domain": [0, 24], "zero": false, "nice": false},
       "axis": {"orient": "bottom", "values": [0,0.3333,0.6667,1,1.3333,1.6667,2,2.3333,2.6667,3,3.3333,3.6667,4,4.3333,4.6667,5,5.3333,5.6667,6,6.3333,6.6667,7,7.3333,7.6667,8,8.3333,8.6667,9,9.3333,9.6667,10,10.3333,10.6667,11,11.3333,11.6667,12,12.3333,12.6667,13,13.3333,13.6667,14,14.3333,14.6667,15,15.3333,15.6667,16,16.3333,16.6667,17,17.3333,17.6667,18,18.3333,18.6667,19,19.3333,19.6667,20,20.3333,20.6667,21,21.3333,21.6667,22,22.3333,22.6667,23,23.3333,23.6667,24], "labelExpr": "abs(datum.value-round(datum.value))<0.01 ? format(round(datum.value),'d') : ''", "tickSize": 4, "labelPadding": 7, "labelOverlap": false, "labelFlush": false, "title": "Hours (GMT)", "titlePadding": 4}},
     "y": {"field": "p", "type": "quantitative", "scale": {"domain": [400, 440], "zero": false, "nice": false},
       "axis": {"orient": "left", "values": [400,402,404,406,408,410,412,414,416,418,420,422,424,426,428,430,432,434,436,438,440], "labelExpr": "abs(datum.value/10-round(datum.value/10))<0.001 ? format(datum.value,'~g') : ''", "tickSize": {"condition": {"test": "abs(datum.value/10-round(datum.value/10))<0.001", "value": 7}, "value": 4}, "labelPadding": 5, "labelOverlap": false, "labelFlush": false, "title": "ρCO₂ [μ atm]", "titlePadding": 3}}}},
  {"mark": {"type": "tick", "orient": "horizontal", "size": 6, "thickness": 1.5, "color": "#ff0000", "opacity": 0},
   "encoding": {
     "x": {"field": "h", "type": "quantitative", "scale": {"domain": [0, 24], "zero": false, "nice": false},
       "axis": {"orient": "top", "values": [0,0.3333,0.6667,1,1.3333,1.6667,2,2.3333,2.6667,3,3.3333,3.6667,4,4.3333,4.6667,5,5.3333,5.6667,6,6.3333,6.6667,7,7.3333,7.6667,8,8.3333,8.6667,9,9.3333,9.6667,10,10.3333,10.6667,11,11.3333,11.6667,12,12.3333,12.6667,13,13.3333,13.6667,14,14.3333,14.6667,15,15.3333,15.6667,16,16.3333,16.6667,17,17.3333,17.6667,18,18.3333,18.6667,19,19.3333,19.6667,20,20.3333,20.6667,21,21.3333,21.6667,22,22.3333,22.6667,23,23.3333,23.6667,24], "labels": false, "tickSize": 4, "title": null}},
     "y": {"field": "p", "type": "quantitative", "scale": {"domain": [400, 440], "zero": false, "nice": false},
       "axis": {"orient": "right", "values": [400,402,404,406,408,410,412,414,416,418,420,422,424,426,428,430,432,434,436,438,440], "labelExpr": "abs(datum.value/10-round(datum.value/10))<0.001 ? format(datum.value,'~g') : ''", "tickSize": {"condition": {"test": "abs(datum.value/10-round(datum.value/10))<0.001", "value": 7}, "value": 4}, "labelPadding": 4, "labelOverlap": false, "labelFlush": false, "title": null}}}}
 ]
}
]
}
